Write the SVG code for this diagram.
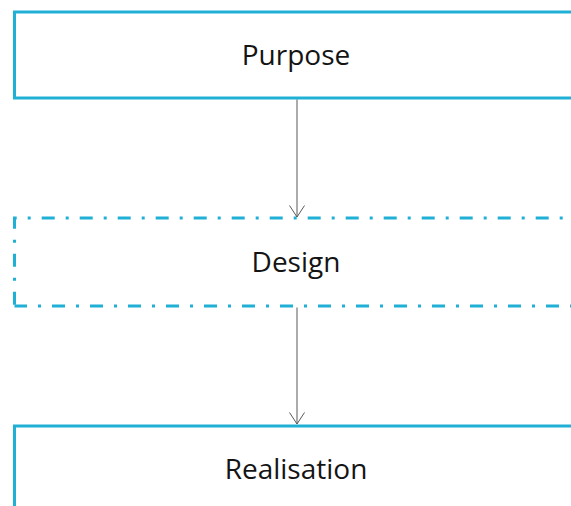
<svg xmlns="http://www.w3.org/2000/svg" width="571" height="506" viewBox="0 0 571 506">
  <defs>
    <style>
      .box { fill: #ffffff; stroke: #21b0d5; stroke-width: 3; }
      .dash { fill: none; stroke: #21b0d5; stroke-width: 3; stroke-dasharray: 13 11 3 11; stroke-linecap: butt; }
      .label { font-family: "Open Sans", "Noto Sans", sans-serif; font-size: 28px; fill: #141414; text-anchor: middle; }
      .conn { stroke: #595959; stroke-width: 1; fill: none; }
    </style>
    <!-- open V arrowhead, drawn pointing along +x so orient="auto" follows the line -->
    <marker id="open-arrow" viewBox="0 0 13 16" refX="12" refY="8" markerWidth="13" markerHeight="16" markerUnits="userSpaceOnUse" orient="auto">
      <path d="M0.5 0.5 L12 8 L0.5 15.5" fill="none" stroke="#595959" stroke-width="1"/>
    </marker>
  </defs>
  <rect width="571" height="506" fill="#ffffff"/>

  <g id="purpose">
    <rect class="box" x="14.5" y="12" width="563.5" height="86"/>
    <text class="label" x="296" y="64.5">Purpose</text>
  </g>

  <g id="design">
    <rect x="14.5" y="218" width="563.5" height="88" fill="#ffffff"/>
    <!-- left and top edges, then bottom edge, each phased to its own dash-dot run -->
    <path class="dash" d="M14.5 306 L14.5 218 L578 218" stroke-dashoffset="36.8"/>
    <path class="dash" d="M14.5 306 L578 306" stroke-dashoffset="0.5"/>
    <text class="label" x="296" y="272">Design</text>
  </g>

  <g id="realisation">
    <rect class="box" x="14.5" y="426" width="563.5" height="90"/>
    <text class="label" x="296" y="478.5">Realisation</text>
  </g>

  <g id="connectors">
    <line class="conn" x1="297" y1="99.5" x2="297" y2="217" marker-end="url(#open-arrow)"/>
    <line class="conn" x1="297" y1="307.5" x2="297" y2="424" marker-end="url(#open-arrow)"/>
  </g>
</svg>
